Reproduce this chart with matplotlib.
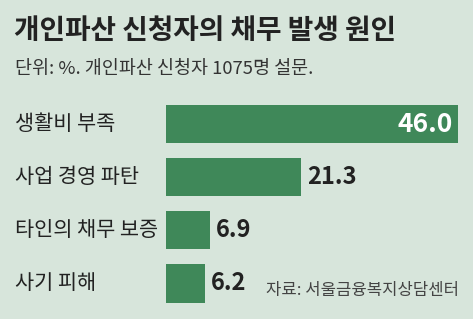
import matplotlib
matplotlib.use("Agg")
import matplotlib.pyplot as plt
from matplotlib.transforms import blended_transform_factory

plt.rcParams['font.family'] = ['Noto Sans CJK KR', 'DejaVu Sans']

categories = ["생활비 부족", "사업 경영 파탄", "타인의 채무 보증", "사기 피해"]
values = [46.0, 21.3, 6.9, 6.2]
title = "개인파산 신청자의 채무 발생 원인"
subtitle = "단위: %. 개인파산 신청자 1075명 설문."
source = "자료: 서울금융복지상담센터"

W, H = 473, 319
BG = "#d7e5db"
BAR = "#3f8859"
TXT = "#222222"

fig = plt.figure(figsize=(W / 100, H / 100), dpi=100, facecolor=BG)

def fx(px):
    return px / W

def fy(py):
    return 1 - py / H

# axes: x from 166 to 466 px, y from 97.5 to 310 px
ax = fig.add_axes([fx(166), fy(310), fx(466) - fx(166), fy(97.5) - fy(310)])
ax.set_facecolor(BG)
ypos = list(range(len(categories)))
ax.barh(ypos, values, height=0.72, color=BAR, edgecolor="none")
ax.set_xlim(0, 300 / 6.35)
ax.set_ylim(len(categories) - 0.5, -0.5)
ax.axis("off")

trans = blended_transform_factory(fig.transFigure, ax.transData)
for i, (c, v) in enumerate(zip(categories, values)):
    ax.text(fx(15), i, c, transform=trans, ha="left", va="center",
            fontsize=15, color=TXT)
    if i == 0:
        ax.text(v - 0.9, i, f"{v:.1f}", ha="right", va="center",
                fontsize=19, color="white", fontweight="bold")
    else:
        ax.text(v + 0.9, i, f"{v:.1f}", ha="left", va="center",
                fontsize=17, color=TXT, fontweight="bold")

fig.text(fx(14), fy(31), title, ha="left", va="center", fontsize=20,
         fontweight="bold", color=TXT)
fig.text(fx(15), fy(69), subtitle, ha="left", va="center", fontsize=13.3,
         color="#333333")
fig.text(fx(459), fy(291), source, ha="right", va="center", fontsize=12,
         color="#444444")

fig.savefig("out.png", dpi=100, facecolor=BG)
